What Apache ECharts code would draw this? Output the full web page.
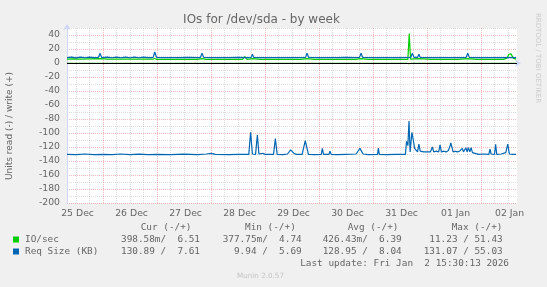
<!DOCTYPE html>
<html><head><meta charset="utf-8">
<script src="https://cdn.jsdelivr.net/npm/echarts@6/dist/echarts.min.js"></script>
<style>html,body{margin:0;padding:0;background:#f0f0f0}#c{width:547px;height:287px}</style>
</head><body><div id="c"></div><script>
// ---- data (x = hours relative to 26 Dec 00:00) ----
const dayLabels = ['25 Dec','26 Dec','27 Dec','28 Dec','29 Dec','30 Dec','31 Dec','01 Jan','02 Jan'];
const dayLabelHours = [-11.3,12.7,36.7,60.7,84.7,108.7,132.7,156.7,180.7];
const majorGridHours = [0,24,48,72,96,120,144,168];
const minorGridHours = [-12,-6,6,12,18,30,36,42,54,60,66,78,84,90,102,108,114,126,132,138,150,156,162,174,180];
const yTickValues = [40,20,0,-20,-40,-60,-80,-100,-120,-140,-160,-180,-200];

const ioWrite = [[-16,5.6],[-13,5.9],[-10,5.4],[-6,5.8],[-1.3,6.2],[2,5.6],[6,5.4],[10,5.7],[14,5.4],[18,5.6],[22,5.4],[23,6.5],[24,5.2],[30,5.1],[36,5.2],[42,5.1],[44,6.2],[46,5.1],[52,5.1],[58,5.2],[62,5.1],[63,9],[64,5.1],[66.4,6.2],[70,5.1],[76,5.2],[82,5.1],[88,5.2],[90.7,6.2],[94,5.1],[100,5.2],[106,5.1],[112,5.2],[114.7,6.2],[118,5.1],[124,5.2],[130,5.1],[135.5,5.2],[136.1,42],[136.7,5.4],[140.4,6.2],[146,5.1],[152,5.2],[158,5.1],[162.1,6.2],[166,5.1],[172,5.2],[178,5.1],[179.5,7],[180.4,12.5],[181.4,13],[182.3,7],[183.6,5.6]];
const ioRead = [[-16,-0.4],[62.5,-0.4],[63,-2],[63.5,-0.4],[90,-0.4],[90.5,-2.5],[91,-0.4],[114.2,-0.4],[114.7,-2],[115.2,-0.4],[134.8,-0.4],[135.3,-3],[135.9,-1],[136.5,-3],[137.2,-0.4],[140.1,-0.4],[140.6,-2],[141.1,-0.4],[161.9,-0.4],[162.4,-2.5],[162.9,-0.4],[183.6,-0.4]];
const reqWrite = [[-16,7.8],[-14,8.3],[-12,7.4],[-10,8.4],[-8,7.5],[-6,8.4],[-4,7.6],[-2,8.1],[-1.3,13.8],[-0.6,7.8],[2,8.4],[4,7.5],[6,8.4],[8,7.5],[10,8.3],[12,7.5],[14,8.4],[16,7.5],[18,8.3],[20,7.6],[22.3,8.0],[23,15.7],[23.8,8.0],[26,7.6],[30,7.8],[34,7.6],[38,7.9],[42,7.6],[43.3,8],[44,13.8],[44.8,8],[48,7.6],[52,7.8],[56,7.6],[60,7.9],[64,7.6],[65.8,8],[66.4,12.4],[67,8],[70,7.6],[74,7.8],[78,7.6],[82,7.8],[86,7.6],[90,8],[90.7,13.8],[91.4,8],[96,7.6],[100,7.8],[104,7.6],[108,7.9],[112,7.6],[114,8],[114.7,13.8],[115.4,8],[120,7.6],[124,7.8],[128,7.6],[132,7.8],[136.8,8],[137.5,13.8],[138.2,8],[139.8,8],[140.4,12.4],[141,8],[146,7.6],[150,7.8],[154,7.6],[158,7.8],[161.4,8],[162.1,13.8],[162.8,8],[166,7.6],[170,7.8],[174,7.6],[178,7.8],[183.6,7.6]];
const reqRead = [[-16,-130.5],[-12,-131],[-8,-130],[-4,-131],[0,-130.5],[4,-131],[8,-130],[12,-130.8],[16,-130.2],[20,-131],[24,-130.5],[30,-131],[36,-130.2],[42,-131],[46,-130],[48,-129],[50,-130.5],[56,-131],[60,-130.5],[64.8,-130.5],[65.6,-99],[66.4,-130],[67.8,-130.5],[68.6,-103],[69.3,-130],[71,-129],[72,-130.5],[75.8,-130.5],[76.6,-108],[77.4,-130.5],[80,-131],[82,-130],[83.4,-124],[85,-129.5],[86,-130.5],[88.5,-130.5],[89.9,-111],[91.3,-130.5],[94,-131],[97,-130.5],[97.5,-122],[98,-130.5],[100.4,-130.5],[100.9,-126],[101.4,-130.5],[104,-131],[108,-130.5],[112.5,-130],[113.5,-125],[114.2,-122],[114.7,-124.5],[115,-122],[115.6,-130],[118,-131],[122,-130.5],[122.4,-121.5],[122.8,-130.5],[126,-131],[130,-130.5],[134.4,-130.5],[134.9,-112],[135.5,-118],[136,-83],[136.5,-127],[137.3,-99],[137.9,-110],[138.5,-122],[139.2,-119.5],[139.8,-127],[140.4,-116],[141,-126],[141.8,-125],[142.5,-127],[143.3,-126],[144,-127],[144.8,-125],[145.5,-127],[146.4,-120],[147,-127],[148,-126],[149.2,-127],[149.8,-117],[150.4,-127],[151.5,-126],[152.5,-127],[153.5,-125],[154.2,-119],[154.6,-114],[155.1,-116],[155.6,-127],[156.5,-126],[157.5,-127],[158.5,-126],[159.2,-127],[159.7,-122],[160.2,-127],[161.3,-121],[161.8,-127],[162.4,-121],[163,-127],[163.6,-121],[164.2,-128],[165,-130],[167,-130.5],[169,-130],[171.5,-130.5],[172,-123],[172.5,-130],[174,-130.5],[174.5,-116],[175,-130.5],[177,-130],[179,-128],[179.9,-116],[180.6,-130],[182,-130.5],[183.6,-130.5]];

const legendHeader = ['Cur (-/+)','Min (-/+)','Avg (-/+)','Max (-/+)'];
const legendNames = ['IO/sec','Req Size (KB)'];
const legendIO = ['398.58m/  6.51','377.75m/  4.74','426.43m/  6.39','11.23 / 51.43'];
const legendReq = ['130.89 /  7.61','9.94 /  5.69','128.95 /  8.04','131.07 / 55.03'];
const lastUpdate = 'Last update: Fri Jan  2 15:30:13 2026';

const GREEN = '#00CC00', BLUE = '#0066B3', FONT = '#666666';
const GRIDC = 'rgba(143,143,143,0.3)', MGRIDC = 'rgba(222,79,79,0.38)';
const AXISC = '#CFD6F8';
const SANS = 'DejaVu Sans', MONO = 'DejaVu Sans Mono';

function lineSeries(data, color, z) {
  return {type:'line', data, showSymbol:false, symbol:'none', z, lineStyle:{color, width:1.2}, itemStyle:{color}, silent:true};
}
function vlineSeries(hours, color) {
  return {type:'line', data:[], silent:true, z:1,
    markLine:{silent:true, symbol:['none','none'], label:{show:false}, animation:false,
      lineStyle:{color, type:[1,1], width:1},
      data: hours.map(h => ({xAxis:h}))}};
}

const colRights = [200, 301.7, 401.7, 502.7];
const headerLefts = [140.7, 245, 347.7, 451.7];
const graphics = [];
function txt(text, x, y, opts) {
  graphics.push(Object.assign({type:'text', x, y, silent:true, style:Object.assign({text, fill:FONT, font:'9.4px "'+MONO+'"', textAlign:'left', align:'left', textVerticalAlign:'middle', verticalAlign:'middle'}, opts||{})}));
}
txt('IOs for /dev/sda - by week', 261.5, 20, {font:'12px "'+SANS+'"', textAlign:'center', align:'center'});
graphics.push({type:'text', x:10, y:126, rotation:Math.PI/2, silent:true, style:{text:'Units read (-) / write (+)', fill:FONT, font:'9px "'+SANS+'"', textAlign:'center', align:'center', textVerticalAlign:'middle', verticalAlign:'middle'}});
graphics.push({type:'text', x:538, y:58, rotation:-Math.PI/2, silent:true, style:{text:'RRDTOOL / TOBI OETIKER', fill:'#cccccc', font:'7px "'+SANS+'"', textAlign:'center', align:'center', textVerticalAlign:'middle', verticalAlign:'middle'}});
legendHeader.forEach((t,i) => txt(t, headerLefts[i], 228));
graphics.push({type:'rect', shape:{x:13, y:236.5, width:6, height:6}, style:{fill:GREEN}, silent:true});
graphics.push({type:'rect', shape:{x:13, y:248.5, width:6, height:6}, style:{fill:BLUE}, silent:true});
txt(legendNames[0], 25, 240);
txt(legendNames[1], 25, 252);
legendIO.forEach((t,i) => txt(t, colRights[i], 240, {textAlign:'right', align:'right'}));
legendReq.forEach((t,i) => txt(t, colRights[i], 252, {textAlign:'right', align:'right'}));
txt(lastUpdate, 509, 264, {textAlign:'right', align:'right'});
txt('Munin 2.0.57', 260.5, 276, {font:'7.2px "'+SANS+'"', fill:'#c4c4c4', textAlign:'center', align:'center'});

const chart = echarts.init(document.getElementById('c'), null, {renderer:'canvas'});
chart.setOption({
  animation:false,
  backgroundColor:'#f0f0f0',
  grid:{left:67, top:28, right:30, bottom:84, show:true, backgroundColor:'#ffffff', borderWidth:0, containLabel:false, outerBoundsMode:'none'},
  xAxis:{type:'value', min:-16, max:184,
    axisLine:{show:true, lineStyle:{color:AXISC, width:1}, symbol:['none','arrow'], symbolSize:[6,6], symbolOffset:[0,4]},
    axisTick:{show:true, customValues:majorGridHours, length:2, inside:false, lineStyle:{color:MGRIDC}},
    axisLabel:{show:true, customValues:dayLabelHours, color:FONT, fontFamily:SANS, fontSize:9.3, margin:6,
      formatter: v => { const i = dayLabelHours.indexOf(v); return i >= 0 ? dayLabels[i] : ''; }},
    splitLine:{show:false}},
  yAxis:{type:'value', min:-200, max:50, interval:10,
    axisLine:{show:true, onZero:false, lineStyle:{color:AXISC, width:1}, symbol:['none','arrow'], symbolSize:[6,6], symbolOffset:[0,4]},
    axisTick:{show:false},
    axisLabel:{color:FONT, fontFamily:SANS, fontSize:9.3, margin:7,
      formatter: v => yTickValues.indexOf(v) >= 0 ? String(v) : ''},
    splitLine:{show:true, lineStyle:{color:[MGRIDC, GRIDC], type:[1,1], width:1}}},
  series:[
    vlineSeries(minorGridHours, GRIDC),
    vlineSeries(majorGridHours, MGRIDC),
    lineSeries(ioRead, GREEN, 3),
    {type:'line', data:[], silent:true, z:4, markLine:{silent:true, symbol:['none','none'], label:{show:false}, animation:false, lineStyle:{color:'#000000', type:'solid', width:1}, data:[{yAxis:0}]}},
    lineSeries(ioWrite, GREEN, 5),
    lineSeries(reqRead, BLUE, 6),
    lineSeries(reqWrite, BLUE, 6)
  ],
  graphic: graphics
});
</script></body></html>
